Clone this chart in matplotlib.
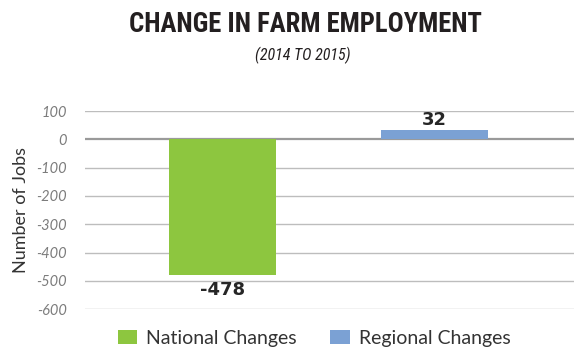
import matplotlib.pyplot as plt
import matplotlib.font_manager as fm
import numpy as np

categories = ['National Changes', 'Regional Changes']
changes = [-478, 32]
colors = ['#8dc63f', '#7ba1d4']
yticks = [100, 0, -100, -200, -300, -400, -500, -600]

W, H = 574, 354
fig = plt.figure(figsize=(W / 100, H / 100), dpi=100)
ax = fig.add_axes([0.148, 0.127, 0.852, 0.559])

x = np.arange(len(categories))
bars = ax.bar(x, changes, width=0.505, color=colors, zorder=3, label=categories)

ax.set_ylim(-600, 100)
ax.set_xlim(-0.649, 1.66)
ax.set_yticks(yticks)
ax.set_yticklabels([str(v) for v in yticks], fontsize=10.5, style='italic',
                   color='#7c7c7c', family='Lato')
ax.set_xticks([])
ax.tick_params(axis='y', length=0, pad=13)
for s in ax.spines.values():
    s.set_visible(False)

# gridlines, zero line a bit heavier
for v in yticks:
    if v == 0:
        ax.axhline(v, color='#9a9a9a', lw=1.6, zorder=2)
    else:
        ax.axhline(v, color='#bdbdbd', lw=1.0, zorder=1)

ax.set_ylabel('Number of Jobs', fontsize=13, color='#333333', family='Lato', labelpad=5)

# value labels
for b, v in zip(bars, changes):
    cx = b.get_x() + b.get_width() / 2
    if v < 0:
        ax.annotate(str(v), (cx, v), xytext=(0, -5), textcoords='offset points',
                    ha='center', va='top', fontsize=13, fontweight='bold', color='#262626')
    else:
        ax.annotate(str(v), (cx, v), xytext=(0, 1), textcoords='offset points',
                    ha='center', va='bottom', fontsize=13, fontweight='bold', color='#262626')

# narrow face for the headline if one is installed
installed = {f.name for f in fm.fontManager.ttflist}
narrow = next((n for n in ['Liberation Sans Narrow', 'DejaVu Sans Condensed',
                           'Roboto Condensed', 'Open Sans Condensed']
               if n in installed), 'DejaVu Sans')


def fit_width(txt, width_px):
    # shrink the font until the text spans the wanted width
    r = fig.canvas.get_renderer()
    for _ in range(4):
        w = txt.get_window_extent(r).width
        txt.set_fontsize(txt.get_fontsize() * width_px / w)


title = fig.text(305.5 / W, 1 - 24 / H, 'CHANGE IN FARM EMPLOYMENT', ha='center',
                 va='center', fontsize=23, fontweight='bold', color='#231f20',
                 family=narrow)
fit_width(title, 353)
sub = fig.text(303 / W, 1 - 55 / H, '(2014 TO 2015)', ha='center', va='center',
               fontsize=12, style='italic', color='#231f20', family=narrow)
fit_width(sub, 96)

fig.legend(handles=bars, labels=categories, loc='center', bbox_to_anchor=(0.547, 0.045),
           ncol=2, frameon=False, handlelength=1.0, handleheight=0.75,
           columnspacing=1.75, handletextpad=0.45, labelcolor='#333333',
           prop={'family': 'Lato', 'size': 14})

fig.savefig('out.png', dpi=100)
